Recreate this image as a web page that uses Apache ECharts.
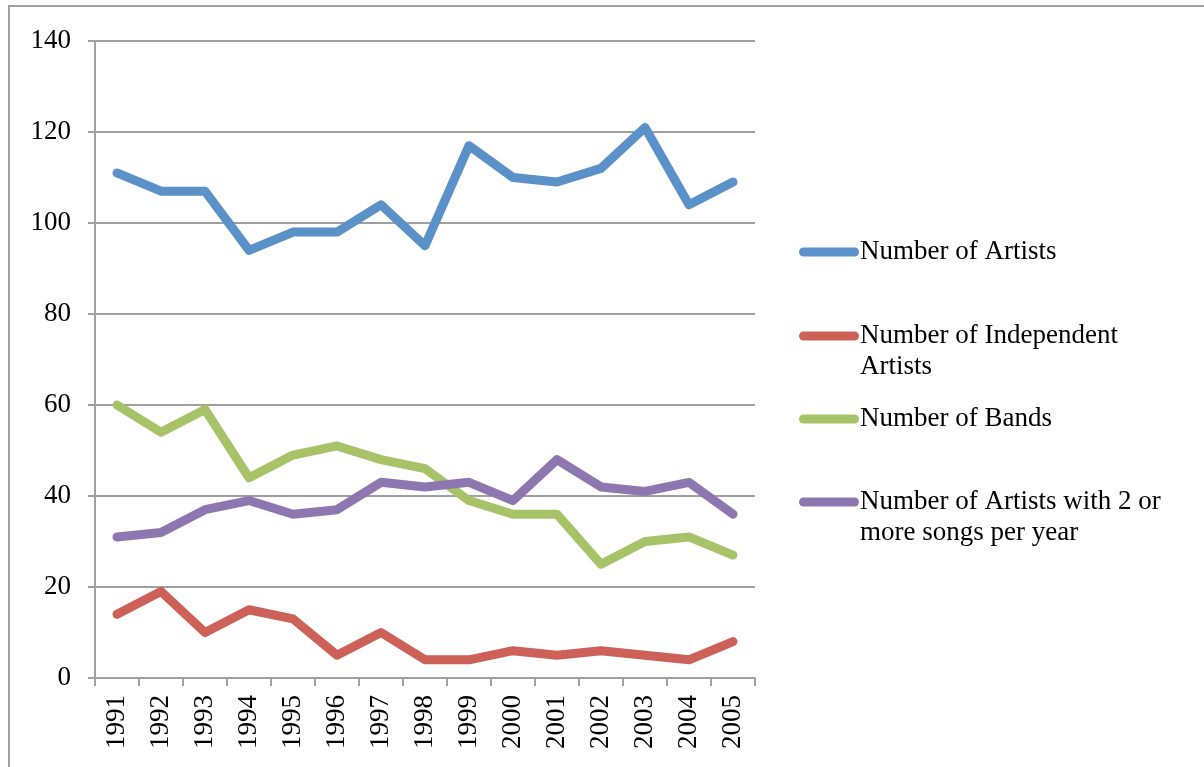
<!DOCTYPE html>
<html>
<head>
<meta charset="utf-8">
<script src="https://cdn.jsdelivr.net/npm/echarts@6/dist/echarts.min.js"></script>
<style>
  html, body { margin: 0; padding: 0; background: #fff; }
  #chart { width: 1204px; height: 767px; }
</style>
</head>
<body>
<div id="chart"></div>
<script>
// Billboard chart statistics by year
const years = ['1991','1992','1993','1994','1995','1996','1997','1998','1999','2000','2001','2002','2003','2004','2005'];
const artists     = [111, 107, 107, 94, 98, 98, 104, 95, 117, 110, 109, 112, 121, 104, 109];
const independent = [14, 19, 10, 15, 13, 5, 10, 4, 4, 6, 5, 6, 5, 4, 8];
const bands       = [60, 54, 59, 44, 49, 51, 48, 46, 39, 36, 36, 25, 30, 31, 27];
const multiSong   = [31, 32, 37, 39, 36, 37, 43, 42, 43, 39, 48, 42, 41, 43, 36];
const yTicks = [0, 20, 40, 60, 80, 100, 120, 140];

const seriesNames = ['Number of Artists', 'Number of Independent Artists', 'Number of Bands', 'Number of Artists with 2 or more songs per year'];
const legendText = ['Number of Artists', 'Number of Independent\nArtists', 'Number of Bands', 'Number of Artists with 2 or\nmore songs per year'];
const colors = ['#5A91C8', '#CD6158', '#A7C367', '#8E76B1'];
const values = [artists, independent, bands, multiSong];

const FONT = 'Liberation Serif';
const FS = 27;
const LH = 31;
const gray = '#A0A0A0';

// rounded bar used as legend swatch
const swatch = 'path://M4.5,0 H55.5 A4.5,4.5 0 0 1 55.5,9 H4.5 A4.5,4.5 0 0 1 4.5,0 Z';
const legendCenters = [249, 333, 416, 499];

// Two-line entries get an empty leading line so the first line sits beside the swatch
const legends = seriesNames.map((name, i) => {
  const twoLine = legendText[i].indexOf('\n') >= 0;
  const shown = twoLine ? '\n' + legendText[i] : legendText[i];
  const half = twoLine ? LH * 1.5 : LH / 2;
  return {
    data: [name],
    left: 799,
    top: legendCenters[i] - half + 1,
    padding: 0,
    icon: swatch,
    itemWidth: 60,
    itemHeight: 9,
    selectedMode: false,
    formatter: () => shown,
    textStyle: {
      fontFamily: FONT, fontSize: FS, color: '#000', lineHeight: LH,
      padding: [4, 0, 0, -4]
    }
  };
});

const chart = echarts.init(document.getElementById('chart'), null, { renderer: 'canvas' });
chart.setOption({
  animation: false,
  backgroundColor: '#fff',
  color: colors,
  grid: { left: 95, right: 449, top: 41, bottom: 89, containLabel: false },
  legend: legends,
  xAxis: {
    type: 'category',
    data: years,
    boundaryGap: true,
    axisLine: { lineStyle: { color: gray, width: 2 } },
    axisTick: { show: true, length: 8, lineStyle: { color: gray, width: 2 } },
    axisLabel: { rotate: 90, margin: 17, fontFamily: FONT, fontSize: FS, color: '#000' },
    splitLine: { show: false }
  },
  yAxis: {
    type: 'value',
    min: yTicks[0],
    max: yTicks[yTicks.length - 1],
    interval: 20,
    axisLine: { show: true, lineStyle: { color: gray, width: 2 } },
    axisTick: { show: true, length: 7, lineStyle: { color: gray, width: 2 } },
    axisLabel: { margin: 24, fontFamily: FONT, fontSize: FS, color: '#000', padding: [4, 0, 0, 0] },
    splitLine: { show: true, lineStyle: { color: gray, width: 2 } }
  },
  series: seriesNames.map((name, i) => ({
    name,
    type: 'line',
    data: values[i],
    showSymbol: false,
    symbol: 'none',
    lineStyle: { width: 9, color: colors[i], cap: 'round', join: 'round' },
    itemStyle: { color: colors[i] }
  })),
  graphic: [{
    type: 'polyline',
    shape: { points: [[9, 767], [9, 6], [1204, 6]] },
    style: { stroke: gray, lineWidth: 2, fill: null }
  }]
});
</script>
</body>
</html>
